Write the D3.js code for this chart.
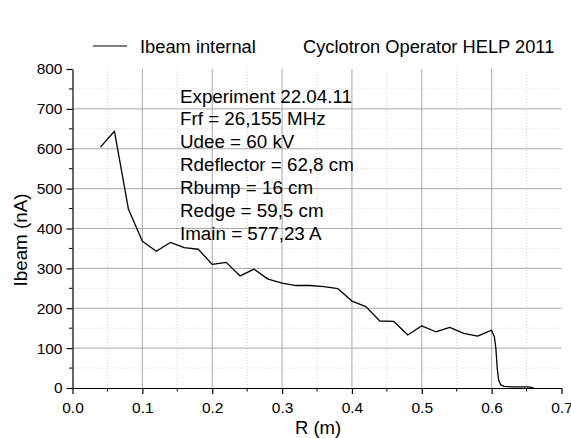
<!DOCTYPE html>
<html>
<head>
<meta charset="utf-8">
<script src="https://cdn.jsdelivr.net/npm/d3@7"></script>
<style>
  body { margin: 0; background: #fff; }
  svg { font-family: "Liberation Sans", Arial, sans-serif; }
</style>
</head>
<body>
<svg id="chart" width="571" height="438"></svg>
<script>
// beam current vs radius
const radius = [0.04, 0.06, 0.08, 0.10, 0.12, 0.14, 0.16, 0.18, 0.20, 0.22, 0.24, 0.26,
    0.28, 0.30, 0.32, 0.34, 0.36, 0.38, 0.40, 0.42, 0.44, 0.46, 0.48, 0.50, 0.52, 0.54,
    0.56, 0.58, 0.60, 0.604, 0.606, 0.608, 0.610, 0.613, 0.618, 0.63, 0.64, 0.65, 0.655, 0.66];
const ibeam = [604, 644, 449, 368, 343, 365, 352, 348, 310, 315, 281, 298,
    273, 263, 257, 257, 254, 249, 218, 204, 168, 167, 133, 156, 141, 152,
    137, 130, 145, 128, 100, 50, 20, 8, 4, 3, 3, 3, 2, 0];

const xTicks = [0.0, 0.1, 0.2, 0.3, 0.4, 0.5, 0.6, 0.7];
const yTicks = [0, 100, 200, 300, 400, 500, 600, 700, 800];
const notes = ["Experiment 22.04.11", "Frf = 26,155 MHz", "Udee = 60 kV",
    "Rdeflector = 62,8 cm", "Rbump = 16 cm", "Redge = 59,5 cm", "Imain = 577,23 A"];

const svg = d3.select("#chart");
const plotLeft = 72.5, plotRight = 561.5, plotTop = 69, plotBottom = 388;

const x = d3.scaleLinear().domain([0, 0.7]).range([plotLeft, plotRight]);
const y = d3.scaleLinear().domain([0, 800]).range([plotBottom, plotTop]);

// minor grid (dotted)
const minorX = d3.range(0.05, 0.7, 0.1);
const minorY = d3.range(50, 800, 100);
svg.append("g").selectAll("line").data(minorX).enter().append("line")
    .attr("x1", d => x(d)).attr("x2", d => x(d)).attr("y1", plotBottom).attr("y2", plotTop)
    .attr("stroke", "#d8d8d8").attr("stroke-dasharray", "1,2");
svg.append("g").selectAll("line").data(minorY).enter().append("line")
    .attr("x1", plotLeft).attr("x2", plotRight).attr("y1", d => y(d)).attr("y2", d => y(d))
    .attr("stroke", "#d8d8d8").attr("stroke-dasharray", "1,2");

// major grid
svg.append("g").selectAll("line").data(xTicks.slice(1, -1)).enter().append("line")
    .attr("x1", d => x(d)).attr("x2", d => x(d)).attr("y1", plotBottom).attr("y2", plotTop)
    .attr("stroke", "#a8a8a8");
svg.append("g").selectAll("line").data(yTicks.slice(1, -1)).enter().append("line")
    .attr("x1", plotLeft).attr("x2", plotRight).attr("y1", d => y(d)).attr("y2", d => y(d))
    .attr("stroke", "#a8a8a8");

// annotation text
svg.append("g").selectAll("text").data(notes).enter().append("text")
    .attr("x", 180).attr("y", (d, i) => 102.5 + i * 22.95)
    .attr("font-size", 18.8).attr("fill", "#000")
    .text(d => d);

// axes
const xAxis = d3.axisBottom(x).tickValues(xTicks).tickFormat(d3.format(".1f")).tickSize(6).tickSizeOuter(0);
const yAxis = d3.axisLeft(y).tickValues(yTicks).tickSize(6).tickSizeOuter(0);

const gx = svg.append("g").attr("transform", `translate(0,${plotBottom})`).call(xAxis);
const gy = svg.append("g").attr("transform", `translate(${plotLeft},0)`).call(yAxis);

// minor ticks
gx.selectAll(".minor").data(minorX).enter().append("line")
    .attr("x1", d => x(d)).attr("x2", d => x(d)).attr("y1", 0).attr("y2", 3.5)
    .attr("stroke", "#000");
gy.selectAll(".minor").data(minorY).enter().append("line")
    .attr("y1", d => y(d)).attr("y2", d => y(d)).attr("x1", 0).attr("x2", -3.5)
    .attr("stroke", "#000");

[gx, gy].forEach(g => {
    g.select(".domain").attr("stroke", "#000").attr("stroke-width", 1.2);
    g.selectAll(".tick line").attr("stroke", "#000").attr("stroke-width", 1.2);
    g.selectAll(".tick text").attr("font-size", 15.5).attr("fill", "#000")
        .attr("font-family", "Liberation Sans, Arial, sans-serif");
});
gx.selectAll(".tick text").attr("dy", null).attr("y", 24.5);
gy.selectAll(".tick text").attr("x", -10);

// axis titles
svg.append("text").attr("x", 318).attr("y", 433.5)
    .attr("text-anchor", "middle").attr("font-size", 18.5).text("R (m)");
svg.append("text").attr("transform", "translate(26.5,240) rotate(-90)")
    .attr("text-anchor", "middle").attr("font-size", 18.8).text("Ibeam (nA)");

// data line
const line = d3.line().x((d, i) => x(radius[i])).y(d => y(d));
svg.append("path").datum(ibeam).attr("d", line)
    .attr("fill", "none").attr("stroke", "#000").attr("stroke-width", 1.3)
    .attr("stroke-linejoin", "round");

// legend
svg.append("line").attr("x1", 93).attr("x2", 127).attr("y1", 46).attr("y2", 46)
    .attr("stroke", "#000").attr("stroke-width", 1.2);
svg.append("text").attr("x", 140).attr("y", 52.5).attr("font-size", 18.3).text("Ibeam internal");
svg.append("text").attr("x", 303).attr("y", 52.5).attr("font-size", 18.3).text("Cyclotron Operator HELP 2011");
</script>
</body>
</html>
